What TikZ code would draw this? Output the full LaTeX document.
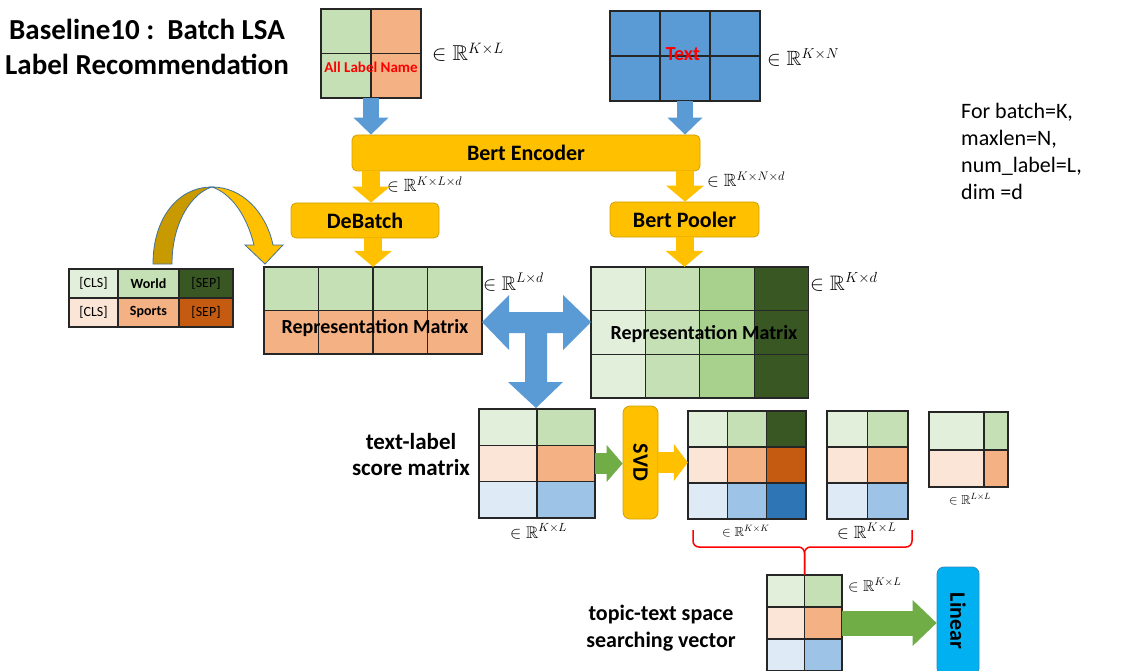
\RequirePackage{fix-cm}
\documentclass[tikz,border=0pt]{standalone}
\usepackage{amssymb}
\usepackage[no-math]{fontspec}
\setmainfont{Carlito}
\usetikzlibrary{arrows.meta,fit}
\definecolor{gA}{HTML}{E2EFDA}
\definecolor{gB}{HTML}{C5E0B4}
\definecolor{gC}{HTML}{A9D18E}
\definecolor{gD}{HTML}{385723}
\definecolor{oA}{HTML}{FBE5D6}
\definecolor{oB}{HTML}{F4B183}
\definecolor{oC}{HTML}{C55A11}
\definecolor{bA}{HTML}{DEEBF7}
\definecolor{bB}{HTML}{9DC3E6}
\definecolor{bC}{HTML}{2E75B6}
\definecolor{bblue}{HTML}{5B9BD5}
\definecolor{yel}{HTML}{FFC000}
\definecolor{ygold}{HTML}{D4A000}
\definecolor{ydark}{HTML}{C99A00}
\definecolor{grn}{HTML}{70AD47}
\definecolor{cyanbox}{HTML}{00B0F0}
\definecolor{cyanline}{HTML}{2E8BC0}
\definecolor{cellline}{HTML}{262626}
\definecolor{arrowline}{HTML}{41719C}
\newcommand{\cellgrid}[5]{%
  \foreach \row [count=\ri from 0] in {#5}
    \foreach \cl [count=\ci from 0] in \row
      \filldraw[cell, fill=\cl] ({#1+\ci*#3},{#2+\ri*#4}) rectangle ++(#3,#4);}
\begin{document}
\begin{tikzpicture}[x=1pt, y=-1pt,
  cell/.style={draw=cellline, line width=1.3pt},
  gridbox/.style={inner sep=0pt},
  ybox/.style={fill=yel, draw=ygold, line width=0.8pt, rounded corners=5pt, inner sep=0pt},
  lbox/.style={fill=cyanbox, draw=cyanline, line width=0.8pt, rounded corners=7pt, inner sep=0pt},
  boxtext/.style={font=\fontsize{22}{26}\selectfont\bfseries},
  reptext/.style={anchor=base, inner sep=0pt, font=\fontsize{20}{24}\selectfont\bfseries},
  sidetext/.style={anchor=base, inner sep=0pt, font=\fontsize{23}{27}\selectfont\bfseries},
  title/.style={anchor=base, inner sep=0pt, font=\fontsize{29}{34}\selectfont\bfseries},
  note/.style={anchor=base west, inner sep=0pt, font=\fontsize{22}{26}\selectfont},
  tokcell/.style={draw=cellline, line width=1.3pt, minimum height=29pt, inner sep=0pt, font=\fontsize{14}{16}\selectfont},
  redtext/.style={text=red, inner sep=0pt},
  dim/.style={anchor=base west, inner sep=0pt},
  barrow/.style={draw=bblue, line width=16pt, -{Triangle[width=35pt,length=17pt,line width=0pt]}},
  yarrow/.style={draw=yel, line width=18pt, -{Triangle[width=38pt,length=16pt,line width=0pt]}},
  ysmall/.style={draw=yel, line width=21pt, -{Triangle[width=37pt,length=14pt,line width=0pt]}},
  garrow/.style={draw=grn, line width=21pt, -{Triangle[width=37pt,length=16pt,line width=0pt]}},
  gbig/.style={draw=grn, line width=25pt, -{Triangle[width=46pt,length=24pt,line width=0pt]}}]
\useasboundingbox (0,0) rectangle (1124,671);
\fill[white] (0,0) rectangle (1124,671);
\node[title] (title1) at (147,40) {Baseline10 :~~Batch LSA};
\node[title] (title2) at (147,75) {Label Recommendation};
\cellgrid{321}{9}{50}{44.5}{{gB,oB},{gB,oB}}
\node[gridbox, fit={(321,9)(421,98)}] (lbl) {};
\node[redtext, font=\fontsize{15}{18}\selectfont\bfseries] (lblname) at (371,67) {All Label Name};
\node[dim, font=\fontsize{21.5}{25}\selectfont] (dimlbl) at (432,61) {$\in\mathbb{R}^{K\times L}$};
\cellgrid{610}{11}{50}{45}{{bblue,bblue,bblue},{bblue,bblue,bblue}}
\node[gridbox, fit={(610,11)(760,101)}] (txt) {};
\node[redtext, font=\fontsize{20}{24}\selectfont\bfseries] (txtname) at (683,54) {Text};
\node[dim, font=\fontsize{20.6}{24}\selectfont] (dimtxt) at (767,66) {$\in\mathbb{R}^{K\times N}$};
\node[ybox, boxtext, minimum width=348pt, minimum height=36pt] (enc) at (526,153) {Bert Encoder};
\node[ybox, boxtext, minimum width=148pt, minimum height=35pt] (deb) at (365,220.5) {DeBatch};
\node[ybox, boxtext, minimum width=149pt, minimum height=35pt] (pool) at (684.5,219.5) {Bert Pooler};
\node[dim, font=\fontsize{17.7}{21}\selectfont] (dimenc) at (387,192) {$\in\mathbb{R}^{K\times L\times d}$};
\node[dim, font=\fontsize{17.7}{21}\selectfont] (dimpool) at (707,187) {$\in\mathbb{R}^{K\times N\times d}$};
\cellgrid{264}{267}{54.5}{43.5}{{gB,gB,gB,gB},{oB,oB,oB,oB}}
\node[gridbox, fit={(264,267)(482,354)}] (repL) {};
\node[reptext] (repLname) at (375,333) {Representation Matrix};
\node[dim, font=\fontsize{19.8}{23}\selectfont] (dimrepL) at (483,290) {$\in\mathbb{R}^{L\times d}$};
\cellgrid{591}{267}{54.4}{43.7}{{gA,gB,gC,gD},{gA,gB,gC,gD},{gA,gB,gC,gD}}
\node[gridbox, fit={(591,267)(808.6,398)}] (repK) {};
\node[reptext] (repKname) at (704,339) {Representation Matrix};
\node[dim, font=\fontsize{20.9}{24}\selectfont] (dimrepK) at (810,290) {$\in\mathbb{R}^{K\times d}$};
\foreach \x/\w/\cu/\cd/\tu/\td [count=\i] in {93.5/49/gA/oA/{[CLS]}/{[CLS]}, 148.5/61/gB/oB/{\textbf{World}}/{\textbf{Sports}}, 206/54/gD/oC/{[SEP]}/{[SEP]}}
{
  \node[tokcell, minimum width=\w pt, fill=\cu] (tokW\i) at (\x,283.5) {\tu};
  \node[tokcell, minimum width=\w pt, fill=\cd] (tokS\i) at (\x,312.5) {\td};
}
\filldraw[ydark, draw=arrowline, line width=0.8pt] (153,264) .. controls (153,218) and (178,187) .. (212,187) .. controls (192,193) and (172,222) .. (172,264) -- cycle;
\filldraw[yel, draw=arrowline, line width=0.8pt] (212,187) .. controls (242,187) and (266,212) .. (273,245) -- (283,245) -- (265,264) -- (245,245) -- (254,245) .. controls (246,213) and (230,193) .. (212,187) -- cycle;
\fill[bblue] (482,322) -- (509,295) -- (509,312) -- (563,312) -- (563,295) -- (591,322) -- (563,350) -- (563,333) -- (547,333) -- (547,382) -- (563,382) -- (536,408) -- (508,382) -- (525,382) -- (525,333) -- (509,333) -- (509,350) -- cycle;
\cellgrid{479}{409}{58}{36.3}{{gA,gB},{oA,oB},{bA,bB}}
\node[gridbox, fit={(479,409)(595,518)}] (score) {};
\node[sidetext] (scoreA) at (411,449) {text-label};
\node[sidetext] (scoreB) at (411,475) {score matrix};
\node[dim, font=\fontsize{16.9}{20}\selectfont] (dimscore) at (510,538) {$\in\mathbb{R}^{K\times L}$};
\node[ybox, boxtext, minimum width=35pt, minimum height=113pt, rounded corners=7pt] (svd) at (640.5,462.5) {\rotatebox{-90}{SVD}};
\cellgrid{688}{411}{39.3}{36}{{gA,gB,gD},{oA,oB,oC},{bA,bB,bC}}
\node[gridbox, fit={(688,411)(806,519)}] (umat) {};
\node[dim, font=\fontsize{13.2}{16}\selectfont] (dimu) at (722,536) {$\in\mathbb{R}^{K\times K}$};
\cellgrid{827}{411}{40.5}{36}{{gA,gB},{oA,oB},{bA,bB}}
\node[gridbox, fit={(827,411)(908,519)}] (smat) {};
\node[dim, font=\fontsize{17.7}{21}\selectfont] (dims) at (837,538) {$\in\mathbb{R}^{K\times L}$};
\filldraw[cell, fill=gA] (929,412) rectangle (984,450);
\filldraw[cell, fill=gB] (984,412) rectangle (1008,450);
\filldraw[cell, fill=oA] (929,450) rectangle (984,487);
\filldraw[cell, fill=oB] (984,450) rectangle (1008,487);
\node[gridbox, fit={(929,412)(1008,487)}] (vmat) {};
\node[dim, font=\fontsize{12.9}{15}\selectfont] (dimv) at (949,504) {$\in\mathbb{R}^{L\times L}$};
\cellgrid{767}{575}{37.5}{32}{{gA,gB},{oA,oB},{bA,bB}}
\node[gridbox, fit={(767,575)(842,671)}] (vec) {};
\node[dim, font=\fontsize{15.8}{19}\selectfont] (dimvec) at (848,591) {$\in\mathbb{R}^{K\times L}$};
\node[sidetext, font=\fontsize{22}{26}\selectfont\bfseries] (vecA) at (661,620) {topic-text space};
\node[sidetext, font=\fontsize{22}{26}\selectfont\bfseries] (vecB) at (661,647) {searching vector};
\node[lbox, boxtext, minimum width=42pt, minimum height=108pt] (lin) at (958,621) {\rotatebox{-90}{Linear}};
\foreach \t [count=\i from 0] in {{For batch=K,},{maxlen=N,},{num\_label=L,},{dim =d}}
  \node[note] (note\i) at (961,{119+\i*26.7}) {\t};
\draw[barrow] (lbl.south) -- (lbl.south |- enc.north);
\draw[barrow] (txt.south) -- (txt.south |- enc.north);
\draw[yarrow] (lbl.south |- enc.south) -- (lbl.south |- deb.north);
\draw[yarrow] (txt.south |- enc.south) -- (txt.south |- pool.north);
\draw[yarrow] (deb.south -| repL.north) -- (repL.north);
\draw[yarrow] (pool.south) -- (pool.south |- repK.north);
\draw[garrow] (score.east) -- (score.east -| svd.west);
\draw[ysmall] (svd.east) -- (svd.east -| umat.west);
\draw[gbig] (vec.east) -- (vec.east -| lin.west);
\coordinate (bl) at (693,530);
\coordinate (br) at (912,530);
\coordinate (bm) at (804.5,547);
\draw[red, line width=1.5pt, rounded corners=6pt] (bl) |- (bm) -- (vec.north);
\draw[red, line width=1.5pt, rounded corners=6pt] (br) |- (bm) -- (vec.north);
\end{tikzpicture}
\end{document}
